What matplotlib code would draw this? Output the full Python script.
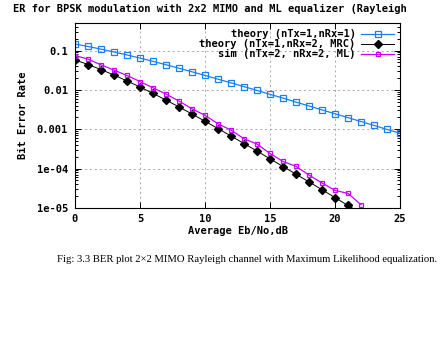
import matplotlib
matplotlib.use("Agg")
import matplotlib.pyplot as plt
from matplotlib.ticker import FixedLocator, FixedFormatter, LogLocator, NullFormatter

# Eb/No axis (dB)
ebno_db = list(range(0, 26))

# theory, 1x1 Rayleigh
ber_theory_1x1 = [0.1464, 0.1267, 0.1085, 0.0919, 0.0771, 0.0642, 0.0530, 0.0435,
                  0.0355, 0.0288, 0.0233, 0.0187, 0.0151, 0.0121, 0.0097, 0.0077,
                  0.0062, 0.0049, 0.0039, 0.0031, 0.00248, 0.00197, 0.00157,
                  0.00125, 0.00099, 0.00079]

# theory, 1x2 MRC
ber_theory_mrc = [0.0580, 0.0441, 0.0328, 0.0238, 0.0169, 0.01184, 0.00813, 0.00551,
                  0.00369, 0.00244, 0.00160, 0.00104, 0.000674, 0.000434, 0.000279,
                  0.000178, 0.000113, 7.24e-5, 4.6e-5, 2.91e-5, 1.84e-5, 1.16e-5,
                  7.4e-6, 4.7e-6, 2.9e-6, 1.9e-6]

# simulation, 2x2 ML (ends at 22 dB)
ebno_sim = list(range(0, 23))
ber_sim_ml = [0.0746, 0.0605, 0.0433, 0.0318, 0.0232, 0.0163, 0.0113, 0.00782,
              0.0052, 0.00331, 0.00226, 0.00138, 0.00095, 5.74e-4, 4.21e-4,
              2.43e-4, 1.52e-4, 1.14e-4, 6.88e-5, 4.31e-5, 2.80e-5, 2.35e-5, 1.21e-5]

ytick_vals = [0.1, 0.01, 0.001, 1e-4, 1e-5]
ytick_labels = ["0.1", "0.01", "0.001", "1e-04", "1e-05"]
xtick_vals = [0, 5, 10, 15, 20, 25]

# the title is cropped on both sides in the source image
title_visible = "ER for BPSK modulation with 2x2 MIMO and ML equalizer (Rayleigh"

mono = {"family": "DejaVu Sans Mono", "weight": "bold", "size": 7.5}

fig = plt.figure(figsize=(4.48, 3.62), dpi=100)
ax = fig.add_axes([75 / 448, 154 / 362, 325 / 448, 185 / 362])

ax.plot(ebno_db, ber_theory_1x1, color="#1a7ff0", lw=0.9, marker="s", ms=5,
        mfc="none", mec="#1a7ff0", mew=0.9, label="theory (nTx=1,nRx=1)")
ax.plot(ebno_db, ber_theory_mrc, color="black", lw=0.7, marker="D", ms=3.8,
        mfc="black", mec="black", label="theory (nTx=1,nRx=2, MRC)")
ax.plot(ebno_sim, ber_sim_ml, color="#c800ff", lw=0.9, marker="s", ms=3.5,
        mfc="none", mec="#c800ff", mew=0.9, label="sim (nTx=2, nRx=2, ML)")

ax.set_yscale("log")
ax.set_xlim(0, 25)
ax.set_ylim(1e-5, 0.5)

ax.yaxis.set_major_locator(FixedLocator(ytick_vals))
ax.yaxis.set_major_formatter(FixedFormatter(ytick_labels))
ax.yaxis.set_minor_locator(LogLocator(subs=range(2, 10)))
ax.yaxis.set_minor_formatter(NullFormatter())
ax.set_xticks(xtick_vals)

ax.tick_params(which="both", direction="in", top=True, right=True, width=0.7)
ax.tick_params(which="major", length=4, pad=5)
ax.tick_params(axis="x", which="major", pad=4)
ax.tick_params(which="minor", length=2)
for lab in ax.get_xticklabels() + ax.get_yticklabels():
    lab.set_family("DejaVu Sans Mono")
    lab.set_weight("bold")
    lab.set_fontsize(7.5)

ax.grid(True, which="major", color="#a8a8a8", lw=0.7, ls=(0, (2, 3)))
for s in ax.spines.values():
    s.set_linewidth(0.8)

ax.set_xlabel("Average Eb/No,dB", fontdict=mono, labelpad=2)
ax.set_ylabel("Bit Error Rate", fontdict=mono, labelpad=6)

leg = ax.legend(loc="upper right", frameon=False, markerfirst=False,
                prop=mono, handlelength=3.1, handletextpad=0.55,
                labelspacing=0.0, borderpad=0.0, borderaxespad=0.6)

fig.text(13 / 448, 1 - 9 / 362, title_visible,
         ha="left", va="center", family="DejaVu Sans Mono", weight="bold",
         fontsize=7.5)

fig.text(57 / 448, 1 - 260 / 362,
         "Fig: 3.3 BER plot 2\u00d72 MIMO Rayleigh channel with Maximum Likelihood equalization.",
         ha="left", va="center", family="Liberation Serif", fontsize=7.7)

fig.savefig("out.png", dpi=100)
